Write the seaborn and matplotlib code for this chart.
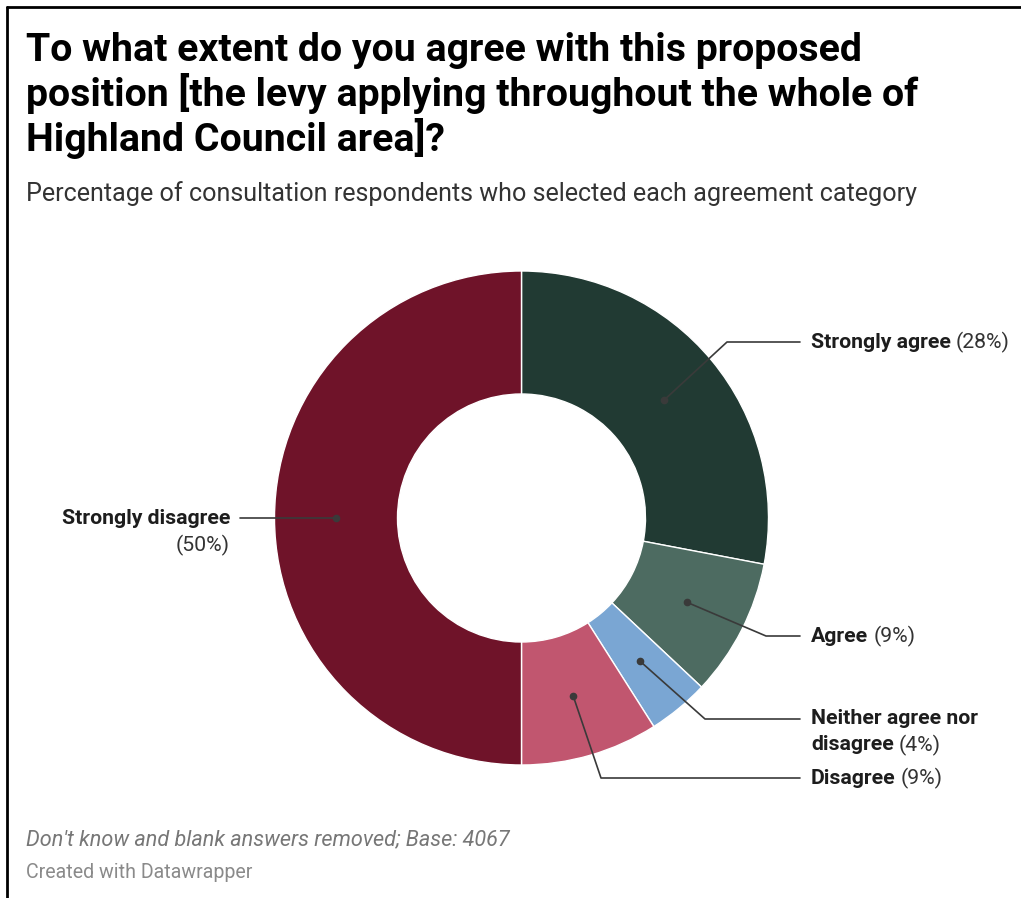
import matplotlib
matplotlib.use("Agg")
import matplotlib.pyplot as plt
from matplotlib.lines import Line2D
import numpy as np
import seaborn as sns

# Survey responses (percent of respondents), in clockwise order from 12 o'clock
categories = ["Strongly agree", "Agree", "Neither agree nor disagree", "Disagree", "Strongly disagree"]
shares = [28, 9, 4, 9, 50]
colours = ["#213a33", "#4d6b61", "#7aa6d3", "#c1566f", "#6f1329"]

title_lines = [
    "To what extent do you agree with this proposed",
    "position [the levy applying throughout the whole of",
    "Highland Council area]?",
]
subtitle = "Percentage of consultation respondents who selected each agreement category"
note = "Don't know and blank answers removed; Base: 4067"
credit = "Created with Datawrapper"

sns.set_theme(style="white")
plt.rcParams["font.family"] = ["Roboto", "DejaVu Sans"]

W, H = 1021, 898
fig = plt.figure(figsize=(W / 100, H / 100), dpi=100)
ax = fig.add_axes([0, 0, 1, 1])


def Y(y):
    # convert top-down pixel row to axes coordinate
    return H - y


cx, cy = 521.5, Y(518)
r_out, r_in = 247, 124
palette = sns.color_palette(colours)
wedges, _ = ax.pie(
    shares, colors=palette, startangle=90, counterclock=False,
    center=(cx, cy), radius=r_out, frame=True,
    wedgeprops=dict(width=r_out - r_in, edgecolor="white", linewidth=1.0),
)
ax.set_xlim(0, W)
ax.set_ylim(0, H)
ax.set_aspect("auto")
ax.axis("off")

# Frame lines along the top and left edge
fig.add_artist(Line2D([7, W], [H - 7, H - 7], transform=None, color="black", lw=2))
fig.add_artist(Line2D([7, 7], [0, H - 7], transform=None, color="black", lw=2))

# Titles
for i, line in enumerate(title_lines):
    ax.text(26, Y(61 + 45 * i), line, fontsize=28.3, fontweight="bold",
            color="#000000", ha="left", va="baseline")
ax.text(26, Y(201), subtitle, fontsize=18.1, color="#333333", ha="left", va="baseline")
ax.text(26, Y(845), note, fontsize=15.55, style="italic", color="#777777", ha="left", va="baseline")
ax.text(26, Y(878), credit, fontsize=14.1, color="#8a8a8a", ha="left", va="baseline")

# Leader anchors at mid-ring, mid-angle of each wedge
cum = np.cumsum([0] + shares)
mid_frac = (cum[:-1] + cum[1:]) / 2 / cum[-1]
angles = np.deg2rad(90 - 360 * mid_frac)
r_mid = (r_out + r_in) / 2
anchors = [(cx + r_mid * np.cos(a), cy + r_mid * np.sin(a)) for a in angles]

line_c = "#3a3a3a"
label_c = "#1d1d1d"
pct_c = "#333333"
fs_lab = 15.3

# (elbow x, label row y) for right-hand labels
right_layout = {
    "Strongly agree": (727, 342),
    "Agree": (766, 636),
    "Neither agree nor disagree": (705, 719),
    "Disagree": (601, 778),
}
text_x = 811
line_end = 800

fig.canvas.draw()
renderer = fig.canvas.get_renderer()


def two_part(x, y, bold, regular):
    t = ax.text(x, y, bold, fontsize=fs_lab, fontweight="bold", color=label_c,
                ha="left", va="center")
    bb = t.get_window_extent(renderer=renderer)
    ax.text(bb.x1 + 5, y, regular, fontsize=fs_lab, color=pct_c, ha="left", va="center")


for name, share, (ax_, ay_) in zip(categories, shares, anchors):
    pct = f"({share}%)"
    ax.plot([ax_], [ay_], "o", ms=4.5, color=line_c, zorder=5)
    if name in right_layout:
        ex, ly = right_layout[name]
        ax.plot([ax_, ex, line_end], [ay_, Y(ly), Y(ly)], color=line_c, lw=1.2, zorder=4)
        if name == "Neither agree nor disagree":
            ax.text(text_x, Y(ly), "Neither agree nor", fontsize=fs_lab, fontweight="bold",
                    color=label_c, ha="left", va="center")
            two_part(text_x, Y(ly + 26), "disagree", pct)
        else:
            two_part(text_x, Y(ly), name, pct)
    else:
        ax.plot([240, ax_], [ay_, ay_], color=line_c, lw=1.2, zorder=4)
        ax.text(230, ay_, name, fontsize=fs_lab, fontweight="bold", color=label_c,
                ha="right", va="center")
        ax.text(230, ay_ - 27, pct, fontsize=fs_lab, color=pct_c, ha="right", va="center")

fig.savefig("out.png", dpi=100, facecolor="white")
